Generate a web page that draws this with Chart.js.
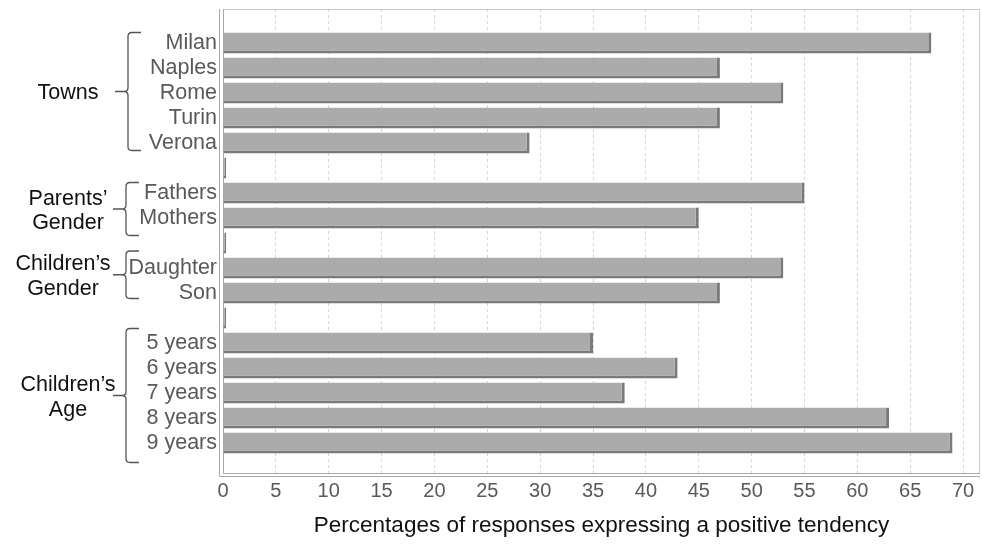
<!DOCTYPE html>
<html>
<head>
<meta charset="utf-8">
<script src="https://cdn.jsdelivr.net/npm/chart.js@4.4.0/dist/chart.umd.min.js"></script>
<style>
  html, body { margin: 0; padding: 0; background: #fff; }
  #wrap { width: 982px; height: 545px; }
</style>
</head>
<body>
<div id="wrap"><canvas id="chart" width="982" height="545"></canvas></div>
<script>
// rows, top to bottom (blank rows separate the groups)
const rowLabels = ['Milan', 'Naples', 'Rome', 'Turin', 'Verona', '',
    'Fathers', 'Mothers', '', 'Daughter', 'Son', '',
    '5 years', '6 years', '7 years', '8 years', '9 years'];
const values = [67, 47, 53, 47, 29, 0.3, 55, 45, 0.3, 53, 47, 0.3, 35, 43, 38, 63, 69];
const xTicks = [0, 5, 10, 15, 20, 25, 30, 35, 40, 45, 50, 55, 60, 65, 70];

// groups drawn with a brace on the left
const groupNames = [['Towns'], ['Parents’', 'Gender'], ['Children’s', 'Gender'], ['Children’s', 'Age']];
const groupFirst = [0, 6, 9, 12];
const groupLast = [4, 7, 10, 16];

const xTitle = 'Percentages of responses expressing a positive tendency';
const FONT = "'Liberation Sans', Arial, sans-serif";

// frame, double axis lines and the group braces
const decorations = {
    id: 'decorations',
    beforeDatasetsDraw(chart) {
        const ctx = chart.ctx;
        const a = chart.chartArea;
        ctx.save();
        ctx.lineWidth = 1;
        ctx.strokeStyle = '#c9c9c9';
        ctx.beginPath();
        ctx.moveTo(a.left, a.top + 0.5);
        ctx.lineTo(a.right - 0.5, a.top + 0.5);
        ctx.lineTo(a.right - 0.5, a.bottom);
        ctx.stroke();
        ctx.strokeStyle = '#a8a8a8';
        ctx.beginPath();
        ctx.moveTo(a.left - 3.5, a.top);
        ctx.lineTo(a.left - 3.5, a.bottom + 3.5);
        ctx.lineTo(a.right, a.bottom + 3.5);
        ctx.moveTo(a.left + 0.5, a.top);
        ctx.lineTo(a.left + 0.5, a.bottom + 0.5);
        ctx.lineTo(a.right, a.bottom + 0.5);
        ctx.stroke();
        ctx.restore();
    },
    afterDraw(chart) {
        const ctx = chart.ctx;
        const y = chart.scales.y;
        const topOff = [-0.42, -0.42, -0.68, -0.58];
        const botOff = [0.3, 0.7, 0.22, 0.78];
        ctx.save();
        groupNames.forEach((lines, g) => {
            const top = y.getPixelForValue(groupFirst[g] + topOff[g]);
            const bot = y.getPixelForValue(groupLast[g] + botOff[g]);
            const mid = (top + bot) / 2;
            const bx = g === 0 ? 128 : 126;
            ctx.strokeStyle = '#555';
            ctx.lineWidth = 1.3;
            ctx.beginPath();
            ctx.moveTo(bx + 13, top);
            ctx.lineTo(bx + 4, top);
            ctx.quadraticCurveTo(bx, top, bx, top + 4);
            ctx.lineTo(bx, mid - 4);
            ctx.quadraticCurveTo(bx, mid, bx - 4, mid);
            ctx.lineTo(bx - 13, mid);
            ctx.moveTo(bx - 4, mid);
            ctx.quadraticCurveTo(bx, mid, bx, mid + 4);
            ctx.lineTo(bx, bot - 4);
            ctx.quadraticCurveTo(bx, bot, bx + 4, bot);
            ctx.lineTo(bx + 13, bot);
            ctx.stroke();

            ctx.fillStyle = '#111';
            ctx.font = '21.5px ' + FONT;
            ctx.textAlign = 'center';
            ctx.textBaseline = 'middle';
            const lh = 24.5;
            const y0 = mid - (lines.length - 1) * lh / 2 + 2;
            const cx = g === 2 ? 63 : 68;
            lines.forEach((t, i) => ctx.fillText(t, cx, y0 + i * lh));
        });
        ctx.restore();
    }
};

const ctx = document.getElementById('chart').getContext('2d');
new Chart(ctx, {
    type: 'bar',
    data: {
        datasets: [{
            data: values.map((v, i) => ({ x: v, y: i })),
            backgroundColor: '#ababab',
            borderColor: '#7a7a7a',
            borderWidth: { top: 0, left: 0, right: 3, bottom: 3 },
            borderSkipped: false,
            barPercentage: 0.84,
            categoryPercentage: 1
        }]
    },
    options: {
        indexAxis: 'y',
        responsive: false,
        animation: false,
        layout: { padding: { top: 9, right: 2, left: 0, bottom: 0 } },
        plugins: {
            legend: { display: false },
            tooltip: { enabled: false }
        },
        scales: {
            x: {
                type: 'linear',
                min: 0,
                max: 71.6,
                afterBuildTicks: s => { s.ticks = xTicks.map(v => ({ value: v })); },
                afterFit: s => { s.height = 72; s.paddingLeft = 0; s.paddingRight = 0; },
                ticks: { autoSkip: false, color: '#595959', font: { family: FONT, size: 20 }, padding: 6 },
                grid: { color: '#d6d6d6', borderDash: [3, 3], drawTicks: false },
                border: { display: false, dash: [3, 3] },
                title: {
                    display: true,
                    text: xTitle,
                    color: '#111',
                    font: { family: FONT, size: 22.5 },
                    padding: { top: 0, bottom: 6 }
                }
            },
            y: {
                type: 'linear',
                reverse: true,
                offset: false,
                min: -1.36,
                max: 17.2,
                afterBuildTicks: s => { s.ticks = rowLabels.map((l, i) => ({ value: i })); },
                afterFit: s => { s.width = 223; s.paddingTop = 0; s.paddingBottom = 0; },
                ticks: {
                    autoSkip: false,
                    color: '#595959',
                    font: { family: FONT, size: 21.5 },
                    padding: 6,
                    callback: v => rowLabels[v]
                },
                grid: { display: false, drawTicks: false },
                border: { display: false }
            }
        }
    },
    plugins: [decorations]
});
</script>
</body>
</html>
